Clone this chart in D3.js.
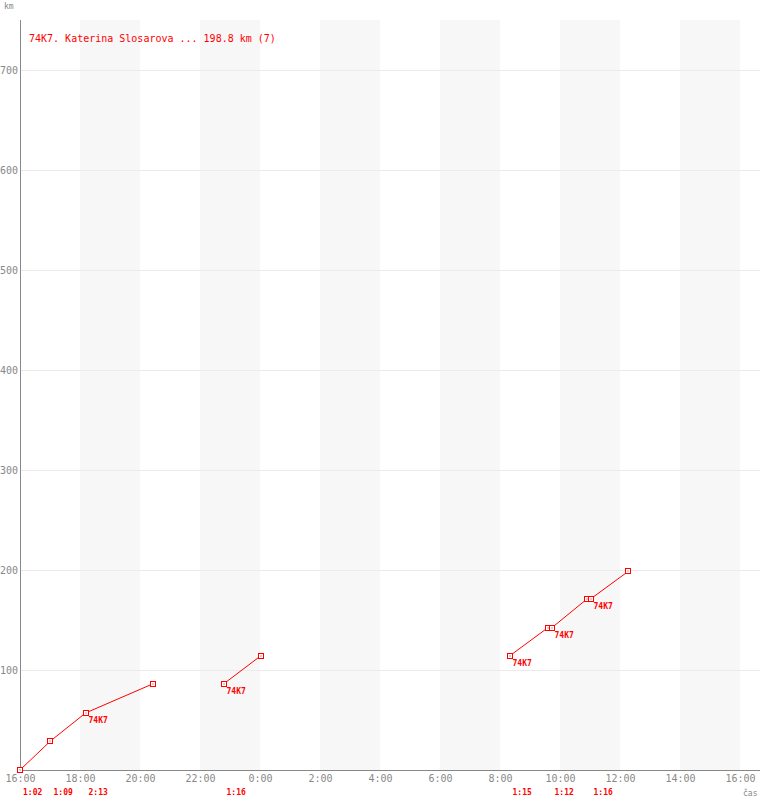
<!DOCTYPE html>
<html>
<head>
<meta charset="utf-8">
<script src="https://cdn.jsdelivr.net/npm/d3@7"></script>
<style>
  body { margin: 0; background: #fff; }
  svg { display: block; font-family: "DejaVu Sans Mono", monospace; }
</style>
</head>
<body>
<div id="chart"></div>
<script>
const title = "74K7. Katerina Slosarova ... 198.8 km (7)";
const crew = "74K7";

// legs of the route
const legStart = ["16:00", "17:01", "18:11", "22:47", "8:19", "9:43", "11:01"];
const legEnd = ["17:01", "18:11", "20:25", "0:01", "9:35", "10:54", "12:17"];
const legKmStart = [0, 29, 57, 86, 114, 142, 171];
const legKmEnd = [29, 57, 86, 114, 142, 171, 198.8];
const legDuration = ["1:02", "1:09", "2:13", "1:16", "1:15", "1:12", "1:16"];
const legStage = [0, 0, 0, 1, 2, 2, 2];
const legLabelled = [false, false, true, true, true, true, true];

const xTicks = ["16:00", "18:00", "20:00", "22:00", "0:00", "2:00", "4:00", "6:00",
  "8:00", "10:00", "12:00", "14:00", "16:00"];
const yTicks = [100, 200, 300, 400, 500, 600, 700];
const nightBands = [["18:00", "20:00"], ["22:00", "0:00"], ["2:00", "4:00"],
  ["6:00", "8:00"], ["10:00", "12:00"], ["14:00", "16:00"]];

const width = 760, height = 800;
const margin = { top: 20, right: 0, bottom: 30, left: 20 };
const red = "#ff0000";

// hours since race start (16:00), wraps past midnight
function toHours(s, isEnd) {
  const [h, m] = s.split(":").map(Number);
  let v = h + m / 60 - 16;
  if (v < 0 || (isEnd && v === 0)) v += 24;
  return v;
}

const svg = d3.select("#chart").append("svg")
  .attr("width", width).attr("height", height);

const x = d3.scaleLinear().domain([0, 24]).range([margin.left, 740]);
const y = d3.scaleLinear().domain([0, 750]).range([height - margin.bottom, margin.top]);

// shaded bands
svg.append("g").selectAll("rect")
  .data(nightBands)
  .join("rect")
  .attr("x", d => x(toHours(d[0])))
  .attr("width", d => x(toHours(d[1], true)) - x(toHours(d[0])))
  .attr("y", y(750))
  .attr("height", y(0) - y(750))
  .attr("fill", "#f7f7f7");

// grid
svg.append("g").selectAll("line")
  .data(yTicks)
  .join("line")
  .attr("x1", margin.left).attr("x2", width)
  .attr("y1", d => Math.round(y(d)) + 0.5).attr("y2", d => Math.round(y(d)) + 0.5)
  .attr("stroke", "#ebebeb");

// axes
const xAxis = svg.append("g")
  .attr("transform", `translate(0,${y(0)})`)
  .call(d3.axisBottom(x).tickValues(d3.range(0, 25, 2)).tickSize(0).tickPadding(5)
    .tickFormat((d, i) => xTicks[i]));
const yAxis = svg.append("g")
  .attr("transform", `translate(${margin.left},0)`)
  .call(d3.axisLeft(y).tickValues(yTicks).tickSize(0).tickPadding(2));
[xAxis, yAxis].forEach(g => {
  g.select(".domain").remove();
  g.selectAll("text").attr("fill", "#888").style("font-family", "DejaVu Sans Mono, monospace")
    .style("font-size", "10px");
});
svg.append("line")
  .attr("x1", margin.left + 0.5).attr("x2", margin.left + 0.5)
  .attr("y1", y(750)).attr("y2", y(0))
  .attr("stroke", "#888");
svg.append("line")
  .attr("x1", margin.left).attr("x2", width)
  .attr("y1", y(0) + 0.5).attr("y2", y(0) + 0.5)
  .attr("stroke", "#888");

svg.append("text").attr("x", 4).attr("y", 9)
  .attr("fill", "#888").style("font-size", "8px").text("km");
svg.append("text").attr("x", 743).attr("y", 796)
  .attr("fill", "#888").style("font-size", "8px").text("čas");

// title
svg.append("text").attr("x", 29).attr("y", 42)
  .attr("fill", red).style("font-size", "10px").text(title);

// build legs
const legs = legStart.map((s, i) => ({
  t0: toHours(s), t1: toHours(legEnd[i], true),
  k0: legKmStart[i], k1: legKmEnd[i],
  dur: legDuration[i], stage: legStage[i], label: legLabelled[i]
}));

// one polyline per stage
const stages = d3.groups(legs, d => d.stage).map(([, ls]) => {
  const pts = [];
  ls.forEach(l => { pts.push([l.t0, l.k0]); pts.push([l.t1, l.k1]); });
  return pts;
});
const line = d3.line().x(d => x(d[0])).y(d => y(d[1]));
svg.append("g").selectAll("path")
  .data(stages)
  .join("path")
  .attr("d", line)
  .attr("fill", "none")
  .attr("stroke", red);

// markers
const points = legs.flatMap(l => [[l.t0, l.k0], [l.t1, l.k1]]);
const marks = svg.append("g").selectAll("g")
  .data(points)
  .join("g")
  .attr("transform", d => `translate(${Math.round(x(d[0]))},${Math.round(y(d[1]))})`);
marks.append("rect")
  .attr("x", -2.5).attr("y", -2.5).attr("width", 5).attr("height", 5)
  .attr("fill", "#fff").attr("stroke", red);
marks.append("rect")
  .attr("x", -0.5).attr("y", -0.5).attr("width", 1).attr("height", 1)
  .attr("fill", red);

// crew labels
svg.append("g").selectAll("text")
  .data(legs.filter(l => l.label))
  .join("text")
  .attr("x", d => x(d.t0) + 3)
  .attr("y", d => y(d.k0) + 10)
  .attr("fill", red)
  .style("font-size", "8px").style("font-weight", "bold")
  .text(crew);

// leg durations
svg.append("g").selectAll("text")
  .data(legs)
  .join("text")
  .attr("x", d => x(d.t0) + 3)
  .attr("y", 795)
  .attr("fill", red)
  .style("font-size", "8px").style("font-weight", "bold")
  .text(d => d.dur);
</script>
</body>
</html>
